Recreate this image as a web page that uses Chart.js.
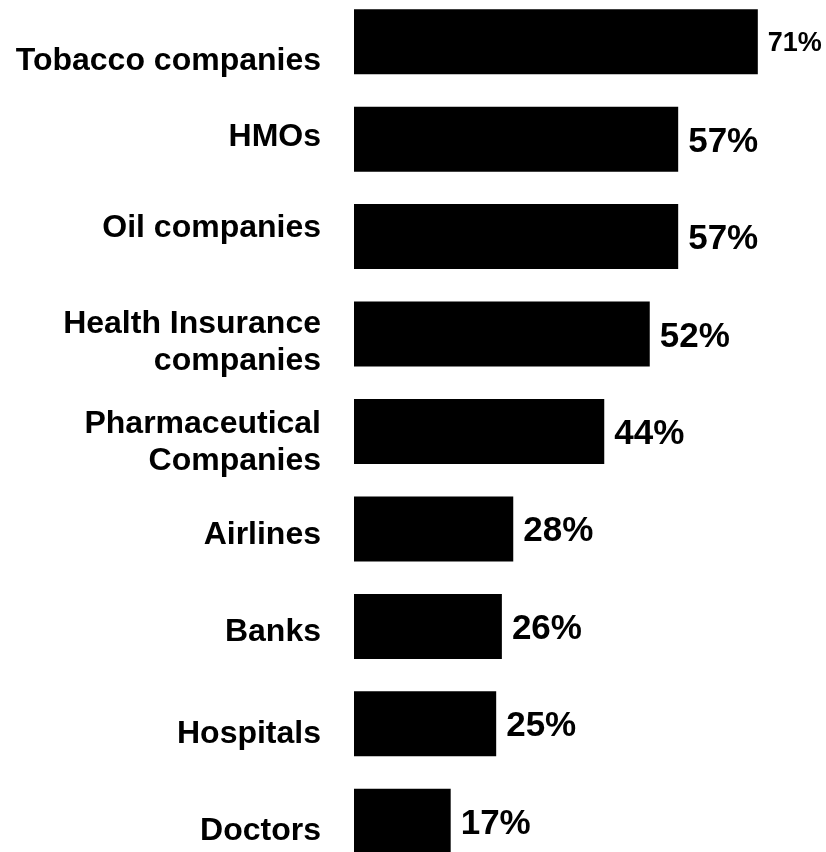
<!DOCTYPE html>
<html>
<head>
<meta charset="utf-8">
<title>Unfavorable ratings</title>
<script src="https://cdn.jsdelivr.net/npm/chart.js@4/dist/chart.umd.min.js"></script>
<style>
  html, body { margin: 0; padding: 0; background: #fff; overflow: hidden; }
  #wrap { position: absolute; left: 0; top: -7px; width: 826px; height: 877px; }
</style>
</head>
<body>
<div id="wrap"><canvas id="chart"></canvas></div>
<script>
const categories = [
  "Tobacco companies",
  "HMOs",
  "Oil companies",
  ["Health Insurance", "companies"],
  ["Pharmaceutical", "Companies"],
  "Airlines",
  "Banks",
  "Hospitals",
  "Doctors",
];
const percents = [71, 57, 57, 52, 44, 28, 26, 25, 17];

const FONT = "'Liberation Sans', Arial, Helvetica, sans-serif";
const CAT_SIZE = 32;
const CAT_LINE = 37;
// the category text boxes sit a little off their bars
const catNudge = [17, -5, -11, 6, 9, 4, 3, 8, 7];

// category names drawn beside the y scale, right aligned
const categoryText = {
  id: "categoryText",
  afterDraw(chart) {
    const ctx = chart.ctx;
    const y = chart.scales.y;
    const right = chart.chartArea.left - 33;
    ctx.save();
    ctx.fillStyle = "#000";
    ctx.textAlign = "right";
    ctx.textBaseline = "alphabetic";
    ctx.font = `bold ${CAT_SIZE}px ${FONT}`;
    categories.forEach((label, i) => {
      const lines = Array.isArray(label) ? label : [label];
      const mid = y.getPixelForTick(i) + catNudge[i];
      const first = mid - (lines.length - 1) * CAT_LINE / 2;
      lines.forEach((line, k) => {
        ctx.fillText(line, right, first + k * CAT_LINE + CAT_SIZE * 0.358);
      });
    });
    ctx.restore();
  },
};

// value text to the right of each bar; the top one is set a bit smaller
const valueLabels = {
  id: "valueLabels",
  afterDatasetsDraw(chart) {
    const ctx = chart.ctx;
    const meta = chart.getDatasetMeta(0);
    ctx.save();
    ctx.fillStyle = "#000";
    ctx.textAlign = "left";
    ctx.textBaseline = "alphabetic";
    meta.data.forEach((bar, i) => {
      const size = i === 0 ? 27 : 35;
      ctx.font = `bold ${size}px ${FONT}`;
      ctx.fillText(percents[i] + "%", bar.x + 10, bar.y + size * 0.358);
    });
    ctx.restore();
  },
};

new Chart(document.getElementById("chart"), {
  type: "bar",
  data: {
    labels: categories,
    datasets: [{
      data: percents,
      backgroundColor: "#000",
      borderWidth: 0,
      barPercentage: 0.667,
      categoryPercentage: 1,
    }],
  },
  options: {
    indexAxis: "y",
    responsive: true,
    maintainAspectRatio: false,
    animation: false,
    devicePixelRatio: 1,
    layout: { padding: { left: 0, right: 17, top: 0, bottom: 0 } },
    plugins: {
      legend: { display: false },
      tooltip: { enabled: false },
    },
    scales: {
      x: {
        display: false,
        min: 0,
        max: 80,
      },
      y: {
        grid: { display: false, drawTicks: false },
        border: { display: false },
        ticks: { display: false },
        afterFit(scale) {
          scale.width = 354;
          scale.paddingTop = 0;
          scale.paddingBottom = 0;
        },
      },
    },
  },
  plugins: [valueLabels, categoryText],
});
</script>
</body>
</html>
